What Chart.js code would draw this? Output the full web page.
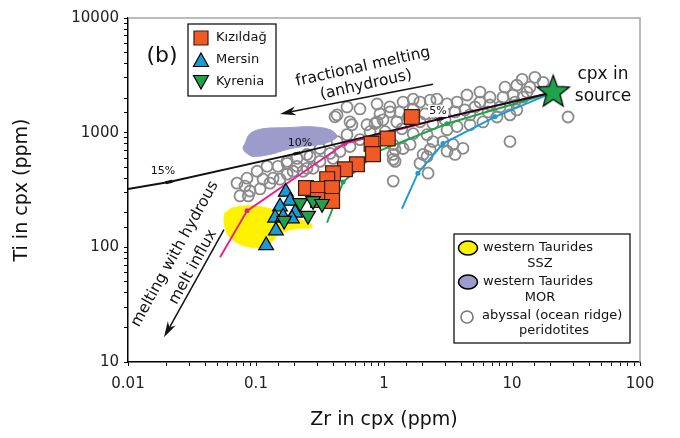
<!DOCTYPE html>
<html>
<head>
<meta charset="utf-8">
<script src="https://cdn.jsdelivr.net/npm/chart.js@4.4.0/dist/chart.umd.min.js"></script>
<style>
html, body { margin: 0; padding: 0; background: #fff; }
</style>
</head>
<body>
<canvas id="chart" width="680" height="438"></canvas>
<script>
// ========================
// DATA (Zr, Ti in cpx, ppm)
// ========================
const xTickLabels = ['0.01', '0.1', '1', '10', '100'];
const yTickLabels = ['10', '100', '1000', '10000'];

const kizildagZr = [1.65, 1.07, 0.80, 0.82, 0.615, 0.495, 0.40, 0.36, 0.246, 0.305, 0.393, 0.305, 0.393];
const kizildagTi = [1370, 890, 800, 650, 530, 480, 443, 393, 329, 323, 329, 259, 254];

const mersinZr = [0.171, 0.185, 0.154, 0.202, 0.141, 0.163, 0.191, 0.143, 0.120];
const mersinTi = [304, 254, 226, 200, 181, 185, 178, 140, 104];

const kyreniaZr = [0.221, 0.279, 0.328, 0.255, 0.166];
const kyreniaTi = [244, 254, 240, 189, 171];

const abyssalZr = [12.0, 15.1, 17.5, 13.1, 10.2, 10.9, 8.51, 5.62, 5.62, 4.45, 3.72, 3.11, 2.59, 2.29, 1.91, 1.69, 1.41, 1.69, 1.11, 0.93,
  0.85, 1.26, 1.38, 1.69, 2.17, 2.41, 3.11, 3.72, 4.70, 5.93, 7.63, 9.64, 10.9, 3.46, 4.14, 3.11, 2.29, 2.17, 2.89, 1.41,
  1.18, 1.91, 9.64, 27.4, 2.21, 1.18, 2.02, 3.59, 12.2, 1.60, 1.22, 1.22,
  0.514, 0.649, 0.414, 0.562, 0.736, 0.882, 0.514, 0.43, 0.316, 0.379, 0.264, 0.209, 0.175, 0.1485, 0.122, 0.102, 0.085, 0.0711,
  0.082, 0.1135, 0.136, 0.175, 0.233, 0.279, 0.209, 0.882, 1.114, 0.43, 0.542, 0.982, 0.25, 0.195, 0.25, 0.316, 0.40, 0.175,
  0.0898, 0.1075, 0.075, 0.1285, 0.154, 1.175, 1.175, 0.087,
  2.09, 2.74, 3.59, 4.29, 5.14, 6.73, 8.06, 6.5, 4.70, 3.0, 2.41, 1.91, 1.55, 1.33, 1.02, 0.778, 0.649, 0.542, 0.453, 6.73,
  8.82, 13.8, 10.55];
const abyssalTi = [2920, 3040, 2750, 2260, 2130, 2590, 2040, 2260, 1850, 2130, 1850, 1780, 1960, 1920, 1850, 1960, 1850, 1610, 1680, 1460,
  1200, 1240, 1080, 980, 960, 836, 1060, 1130, 1170, 1240, 1370, 1430, 1580, 790, 730, 690, 714, 620, 836, 728,
  585, 540, 836, 1370, 443, 378, 646, 646, 2040, 790, 714, 562,
  1675, 1610, 1374, 1172, 1172, 1244, 961, 836, 728, 659, 621, 597, 540, 509, 509, 461, 401, 363,
  342, 393, 401, 435, 461, 489, 509, 1778, 1517, 1429, 1244, 1294, 646, 461, 489, 562, 597, 562,
  310, 323, 281, 363, 393, 646, 788, 281,
  1458, 1458, 1517, 1578, 1675, 1743, 1675, 1517, 1429, 1294, 1196, 1244, 1374, 1517, 1020, 1020, 870, 757, 686, 2040,
  2494, 2494, 1850];

// field outlines
const sszZr = [0.0573, 0.0661, 0.0948, 0.146, 0.195, 0.264, 0.274, 0.209, 0.154, 0.1285, 0.1075, 0.0791, 0.0626, 0.0573, 0.0562, 0.0573];
const sszTi = [200, 221, 230, 208, 181, 164, 149, 146, 132, 108, 100, 104, 122, 149, 181, 200];
const morZr = [0.082, 0.0897, 0.1135, 0.1746, 0.264, 0.379, 0.43, 0.379, 0.316, 0.233, 0.1746, 0.1285, 0.0948, 0.0851, 0.0791, 0.082];
const morTi = [804, 980, 1083, 1105, 1127, 1061, 924, 836, 788, 757, 714, 646, 621, 659, 728, 804];

// source and melting models
const sourceZr = [21];
const sourceTi = [2250];
const fracZr = [0.01, 0.0209, 0.209, 2.74, 21];
const fracTi = [323, 371, 659, 1321, 2250];
const fracLabels = ['', '15%', '10%', '5%', ''];
const pinkZr = [0.0524, 0.0851, 0.495, 2.74, 21];
const pinkTi = [82, 208, 804, 1321, 2250];
const greenZr = [0.359, 0.479, 0.898, 3.10, 21];
const greenTi = [164, 371, 686, 1196, 2250];
const blueZr = [1.38, 1.84, 2.89, 7.36, 21];
const blueTi = [217, 443, 804, 1374, 2250];

// arrows (tail -> head)
const fracArrowZr = [2.41, 0.154];
const fracArrowTi = [2645, 1458];
const hydArrowZr = [0.0562, 0.0191];
const hydArrowTi = [143, 16.4];

// ========================
// HELPERS
// ========================
const pts = (xs, ys) => xs.map((x, i) => ({ x: x, y: ys[i] }));
const FONT = '"DejaVu Sans", Verdana, sans-serif';

const C_ORANGE = '#f15a24';
const C_BLUE = '#1c9ad6';
const C_GREEN = '#1fa24a';
const C_PINK = '#ec1c8c';
const C_YELLOW = '#fff200';
const C_PURPLE = '#9d9bcb';
const C_GRAY = '#8a8a8a';

function makeStar(r) {
  const c = document.createElement('canvas');
  const s = Math.ceil(r * 2 + 4);
  c.width = s; c.height = s;
  const g = c.getContext('2d');
  g.beginPath();
  for (let i = 0; i < 10; i++) {
    const rr = i % 2 ? r * 0.42 : r;
    const a = -Math.PI / 2 + i * Math.PI / 5;
    g.lineTo(s / 2 + rr * Math.cos(a), s / 2 + rr * Math.sin(a));
  }
  g.closePath();
  g.fillStyle = C_GREEN; g.fill();
  g.lineWidth = 1.2; g.strokeStyle = '#000'; g.stroke();
  return c;
}

function drawArrow(ctx, x1, y1, x2, y2, len, half) {
  const a = Math.atan2(y2 - y1, x2 - x1);
  ctx.beginPath();
  ctx.moveTo(x1, y1);
  ctx.lineTo(x2 - Math.cos(a) * len * 0.7, y2 - Math.sin(a) * len * 0.7);
  ctx.stroke();
  ctx.beginPath();
  ctx.moveTo(x2, y2);
  ctx.lineTo(x2 - Math.cos(a) * len + Math.sin(a) * half, y2 - Math.sin(a) * len - Math.cos(a) * half);
  ctx.lineTo(x2 - Math.cos(a) * len * 0.7, y2 - Math.sin(a) * len * 0.7);
  ctx.lineTo(x2 - Math.cos(a) * len - Math.sin(a) * half, y2 - Math.sin(a) * len + Math.cos(a) * half);
  ctx.closePath();
  ctx.fill();
}

function rotText(ctx, txt, x, y, deg, size) {
  ctx.save();
  ctx.translate(x, y);
  ctx.rotate(deg * Math.PI / 180);
  ctx.font = size + 'px ' + FONT;
  ctx.textAlign = 'center';
  ctx.textBaseline = 'middle';
  ctx.fillText(txt, 0, 0);
  ctx.restore();
}

function marker(ctx, kind, x, y) {
  ctx.save();
  ctx.lineWidth = 1.2;
  ctx.strokeStyle = '#000';
  ctx.beginPath();
  if (kind === 'square') {
    ctx.rect(x - 7, y - 7, 14, 14);
    ctx.fillStyle = C_ORANGE; ctx.strokeStyle = '#3c1e0e';
  } else if (kind === 'up') {
    ctx.moveTo(x, y - 8); ctx.lineTo(x + 7.5, y + 5.5); ctx.lineTo(x - 7.5, y + 5.5); ctx.closePath();
    ctx.fillStyle = C_BLUE;
  } else {
    ctx.moveTo(x, y + 8); ctx.lineTo(x + 7.5, y - 5.5); ctx.lineTo(x - 7.5, y - 5.5); ctx.closePath();
    ctx.fillStyle = C_GREEN;
  }
  ctx.fill(); ctx.stroke();
  ctx.restore();
}

function blob(ctx, x, y, color) {
  ctx.save();
  ctx.beginPath();
  ctx.ellipse(x, y, 9.5, 7, 0, 0, Math.PI * 2);
  ctx.fillStyle = color; ctx.fill();
  ctx.lineWidth = 1.5; ctx.strokeStyle = '#000'; ctx.stroke();
  ctx.restore();
}

// ========================
// DECORATION PLUGIN
// ========================
const decor = {
  id: 'decor',
  afterDatasetsDraw(chart) {
    const { ctx, scales: { x, y }, chartArea: ca } = chart;
    const px = v => x.getPixelForValue(v);
    const py = v => y.getPixelForValue(v);
    ctx.save();
    ctx.fillStyle = '#111';
    ctx.strokeStyle = '#111';

    // percent labels on the fractional melting line
    const offs = [[0, 0], [-6, -11], [3, -10], [-2, -8], [0, 0]];
    ctx.font = '11px ' + FONT;
    ctx.textAlign = 'center';
    ctx.textBaseline = 'middle';
    fracLabels.forEach((t, i) => {
      if (!t) return;
      const lx = px(fracZr[i]) + offs[i][0], ly = py(fracTi[i]) + offs[i][1];
      if (t === '5%') {
        ctx.fillStyle = '#fff';
        ctx.fillRect(lx - 10, ly - 6, 20, 12);
      }
      ctx.fillStyle = '#111';
      ctx.fillText(t, lx, ly);
    });

    // arrows
    ctx.lineWidth = 1.5;
    drawArrow(ctx, px(fracArrowZr[0]), py(fracArrowTi[0]), px(fracArrowZr[1]), py(fracArrowTi[1]), 16, 4.5);
    drawArrow(ctx, px(hydArrowZr[0]), py(hydArrowTi[0]), px(hydArrowZr[1]), py(hydArrowTi[1]), 16, 4.5);

    // annotation text
    rotText(ctx, 'fractional melting', 363, 67, -12.5, 15.5);
    rotText(ctx, '(anhydrous)', 366, 85, -12.5, 15.5);
    rotText(ctx, 'melting with hydrous', 175, 254, -61, 15.5);
    rotText(ctx, 'melt influx', 193, 267, -61, 15.5);
    rotText(ctx, '(b)', 162, 56, 0, 22);
    rotText(ctx, 'cpx in', 603, 75, 0, 17);
    rotText(ctx, 'source', 603, 97, 0, 17);

    // legend 1
    ctx.fillStyle = '#fff';
    ctx.fillRect(188, 24, 88, 72);
    ctx.lineWidth = 1.2;
    ctx.strokeStyle = '#000';
    ctx.strokeRect(188, 24, 88, 72);
    marker(ctx, 'square', 201, 38);
    marker(ctx, 'up', 201, 61);
    marker(ctx, 'down', 201, 81);
    ctx.fillStyle = '#111';
    ctx.font = '13px ' + FONT;
    ctx.textAlign = 'left';
    ctx.textBaseline = 'middle';
    ctx.fillText('Kızıldağ', 216, 38);
    ctx.fillText('Mersin', 216, 60);
    ctx.fillText('Kyrenia', 216, 82);

    // legend 2
    ctx.fillStyle = '#fff';
    ctx.fillRect(454, 234, 176, 109);
    ctx.strokeRect(454, 234, 176, 109);
    blob(ctx, 468, 248, C_YELLOW);
    blob(ctx, 468, 282, C_PURPLE);
    ctx.beginPath();
    ctx.arc(467, 317, 6, 0, Math.PI * 2);
    ctx.lineWidth = 1.6; ctx.strokeStyle = '#777'; ctx.stroke();
    ctx.fillStyle = '#111';
    ctx.font = '13px ' + FONT;
    ctx.textAlign = 'left';
    ctx.fillText('western Taurides', 483, 248);
    ctx.fillText('western Taurides', 483, 282);
    ctx.fillText('abyssal (ocean ridge)', 482, 316);
    ctx.textAlign = 'center';
    ctx.fillText('SSZ', 540, 264);
    ctx.fillText('MOR', 540, 298);
    ctx.fillText('peridotites', 554, 331);

    // axis titles
    ctx.font = '19px ' + FONT;
    ctx.fillText('Zr in cpx (ppm)', 384, 420);
    rotText(ctx, 'Ti in cpx (ppm)', 22, 190, -90, 19);

    // top / right frame
    ctx.strokeStyle = '#a5a5a5';
    ctx.lineWidth = 1.5;
    ctx.beginPath();
    ctx.moveTo(ca.left, ca.top);
    ctx.lineTo(ca.right, ca.top);
    ctx.lineTo(ca.right, ca.bottom);
    ctx.stroke();
    ctx.restore();
  }
};

// ========================
// CHART
// ========================
const isDecade = v => Math.abs(Math.log10(v) - Math.round(Math.log10(v))) < 1e-6;

const lineSet = (label, xs, ys, color, order, extra) => Object.assign({
  label: label,
  data: pts(xs, ys),
  showLine: true,
  borderColor: color,
  backgroundColor: color,
  borderWidth: 1.9,
  pointRadius: [0, 2.5, 2.5, 2.5, 0],
  pointBorderWidth: 0,
  fill: false,
  order: order
}, extra || {});

const chart = new Chart(document.getElementById('chart'), {
  type: 'scatter',
  data: {
    datasets: [
      {
        label: 'cpx in source', data: pts(sourceZr, sourceTi),
        pointStyle: makeStar(17), pointRadius: 17, order: 0
      },
      {
        label: 'Kyrenia', data: pts(kyreniaZr, kyreniaTi),
        pointStyle: 'triangle', pointRotation: 180, pointRadius: 8.5,
        backgroundColor: C_GREEN, borderColor: '#000', pointBorderWidth: 1.2, order: 1
      },
      {
        label: 'Mersin', data: pts(mersinZr, mersinTi),
        pointStyle: 'triangle', pointRadius: 8.5,
        backgroundColor: C_BLUE, borderColor: '#000', pointBorderWidth: 1.2, order: 2
      },
      {
        label: 'Kızıldağ', data: pts(kizildagZr, kizildagTi),
        pointStyle: 'rect', pointRadius: 10.5,
        backgroundColor: C_ORANGE, borderColor: '#3c1e0e', pointBorderWidth: 1.2, order: 3
      },
      lineSet('fractional melting', fracZr, fracTi, '#111', 4, {
        pointStyle: 'line', pointRadius: [0, 3.5, 3.5, 3.5, 0], pointBorderWidth: 3, pointRotation: -13
      }),
      lineSet('pink model', pinkZr, pinkTi, C_PINK, 5),
      lineSet('green model', greenZr, greenTi, C_GREEN, 6),
      lineSet('blue model', blueZr, blueTi, C_BLUE, 7),
      {
        label: 'western Taurides SSZ', data: pts(sszZr, sszTi),
        showLine: true, tension: 0.35, fill: 'shape', pointRadius: 0,
        borderColor: C_YELLOW, backgroundColor: C_YELLOW, borderWidth: 1, order: 8
      },
      {
        label: 'western Taurides MOR', data: pts(morZr, morTi),
        showLine: true, tension: 0.35, fill: 'shape', pointRadius: 0,
        borderColor: C_PURPLE, backgroundColor: C_PURPLE, borderWidth: 1, order: 9
      },
      {
        label: 'abyssal peridotites', data: pts(abyssalZr, abyssalTi),
        pointStyle: 'circle', pointRadius: 5.5, pointBorderWidth: 1.8,
        borderColor: C_GRAY, backgroundColor: 'rgba(0,0,0,0)', order: 10
      }
    ]
  },
  options: {
    responsive: false,
    animation: false,
    events: [],
    layout: { padding: { top: 16, right: 40, left: 0, bottom: 0 } },
    plugins: { legend: { display: false }, tooltip: { enabled: false } },
    scales: {
      x: {
        type: 'logarithmic', min: 0.01, max: 100,
        afterFit: s => { s.height = 76; },
        border: { display: true, color: '#000', width: 1.5 },
        grid: { display: true, drawOnChartArea: false, drawTicks: true, tickLength: 4, color: '#000' },
        ticks: {
          autoSkip: false, maxRotation: 0, padding: 9, color: '#222',
          font: { family: 'DejaVu Sans', size: 15 },
          callback: v => isDecade(v) ? xTickLabels[Math.round(Math.log10(v)) + 2] : ''
        }
      },
      y: {
        type: 'logarithmic', min: 10, max: 10000,
        afterFit: s => { s.width = 128; },
        border: { display: true, color: '#000', width: 1.5 },
        grid: { display: true, drawOnChartArea: false, drawTicks: true, tickLength: 4, color: '#000' },
        ticks: {
          autoSkip: false, padding: 5, color: '#222',
          font: { family: 'DejaVu Sans', size: 15 },
          callback: v => isDecade(v) ? yTickLabels[Math.round(Math.log10(v)) - 1] : ''
        }
      }
    }
  },
  plugins: [decor]
});
</script>
</body>
</html>
